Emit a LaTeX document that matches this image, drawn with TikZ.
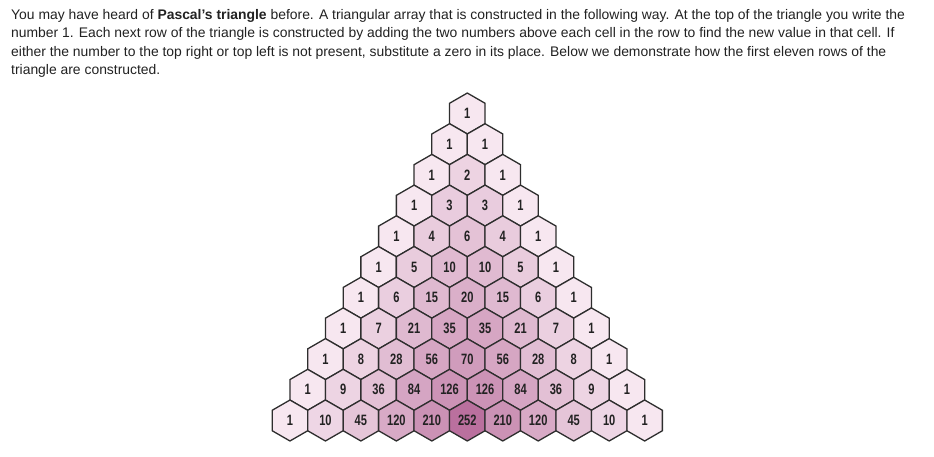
\documentclass[tikz,border=0pt]{standalone}
\usepackage{fontspec}
\setmainfont{Liberation Sans}
\newfontfamily\numfont[FakeStretch=0.74]{Liberation Sans}
\usetikzlibrary{shapes.geometric}
\definecolor{txt}{HTML}{222222}
\definecolor{hexline}{HTML}{2E2E2E}
\definecolor{hexlight}{RGB}{247,231,240}
\definecolor{hexdark}{RGB}{186,112,158}
\begin{document}
\begin{tikzpicture}[x=1pt,y=1pt,
  hexcell/.style={regular polygon, regular polygon sides=6, shape border rotate=30,
    minimum size=40.96pt, inner sep=0pt, outer sep=0pt, draw=hexline, line width=1.3pt,
    font=\numfont\bfseries\fontsize{15}{15}\selectfont, text=txt},
  para/.style={anchor=base west, inner sep=0pt, text=txt,
    font=\fontsize{13.9}{18.3}\selectfont}]
\useasboundingbox (0,0) rectangle (934,-456);
\fill[white] (0,0) rectangle (934,-456);
\node[para] (intro1) at (11,-19.5) {You may have heard of \textbf{Pascal's triangle} before. A triangular array that is constructed in the following way. At the top of the triangle you write the};
\node[para] (intro2) at (11,-37.8) {number 1. Each next row of the triangle is constructed by adding the two numbers above each cell in the row to find the new value in that cell. If};
\node[para] (intro3) at (11,-56.1) {either the number to the top right or top left is not present, substitute a zero in its place. Below we demonstrate how the first eleven rows of the};
\node[para] (intro4) at (11,-74.4) {triangle are constructed.};
\foreach \row [count=\n from 0] in {{1},{1,1},{1,2,1},{1,3,3,1},{1,4,6,4,1},{1,5,10,10,5,1},{1,6,15,20,15,6,1},{1,7,21,35,35,21,7,1},{1,8,28,56,70,56,28,8,1},{1,9,36,84,126,126,84,36,9,1},{1,10,45,120,210,252,210,120,45,10,1}}{
  \pgfmathsetmacro\rmax{max(\row,1)}
  \foreach \v [count=\k from 0] in \row {
    \pgfmathsetmacro\shade{100*(0.08*(\v>1)+0.72*ln(\v)/ln(252)*sqrt(\v/\rmax)+0.2*(\v==252))}
    \node[hexcell, fill=hexdark!\shade!hexlight] (h-\n-\k) at ({467.3+(\k-\n/2)*35.47},{-113.5-\n*30.7}) {\v};
  }
}
\end{tikzpicture}
\end{document}
